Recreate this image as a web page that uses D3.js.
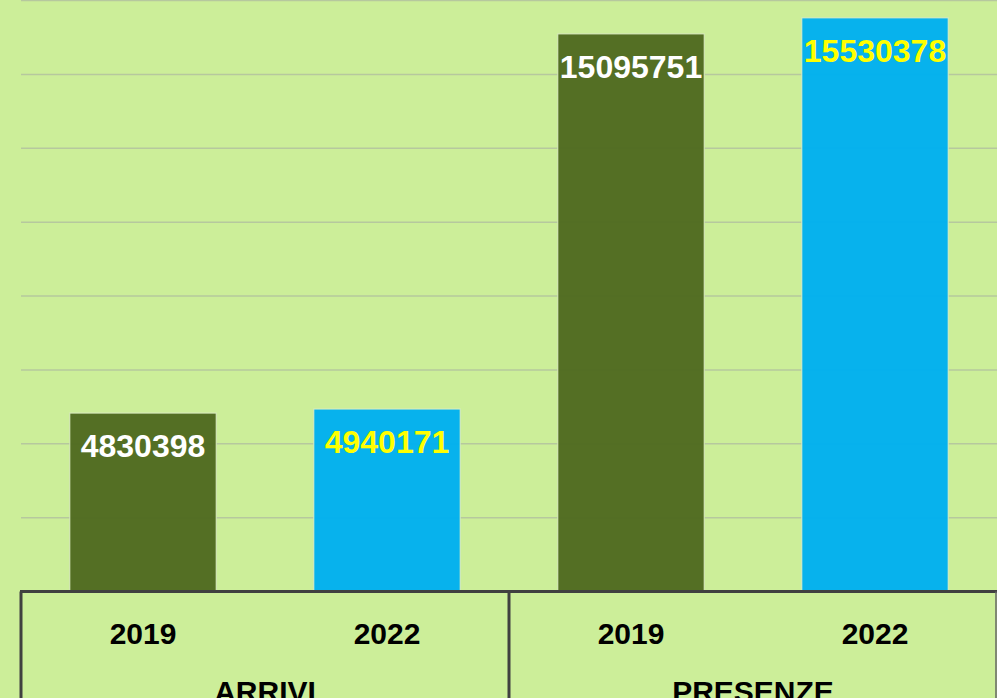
<!DOCTYPE html>
<html>
<head>
<meta charset="utf-8">
<script src="https://cdn.jsdelivr.net/npm/d3@7"></script>
<style>
  html, body { margin: 0; padding: 0; background: #ccee99; overflow: hidden; }
  text { font-family: "Liberation Sans", Arial, sans-serif; font-weight: bold; }
</style>
</head>
<body>
<script>
// dati
const groups = ["ARRIVI", "PRESENZE"];
const years = ["2019", "2022"];
const arrivi = [4830398, 4940171];
const presenze = [15095751, 15530378];
const yMax = 16000000;
const yStep = 2000000;

const colors = { "2019": "#4f6a20", "2022": "#00b0f0" };
const labelColors = { "2019": "#ffffff", "2022": "#ffff00" };

const width = 997;
const height = 698;

const rows = [];
groups.forEach((g, gi) => {
    const vals = gi === 0 ? arrivi : presenze;
    years.forEach((y, yi) => {
        rows.push({ key: g + "-" + y, group: g, year: y, value: vals[yi] });
    });
});

const svg = d3.select("body")
    .append("svg")
    .attr("width", width)
    .attr("height", height);

svg.append("rect")
    .attr("width", width)
    .attr("height", height)
    .attr("fill", "#ccee99");

const x = d3.scaleBand()
    .domain(rows.map(d => d.key))
    .range([21, 997])
    .paddingInner(0.4)
    .paddingOuter(0.2);

const y = d3.scaleLinear()
    .domain([0, yMax])
    .range([591.5, 0.5]);

// griglia
svg.append("g")
    .selectAll("line")
    .data(d3.range(yStep, yMax + 1, yStep))
    .enter().append("line")
    .attr("x1", 21)
    .attr("x2", width)
    .attr("y1", d => y(d))
    .attr("y2", d => y(d))
    .attr("stroke", "#b6c89e")
    .attr("stroke-width", 1.5);

// barre
svg.append("g")
    .selectAll("rect")
    .data(rows)
    .enter().append("rect")
    .attr("x", d => x(d.key))
    .attr("y", d => y(d.value))
    .attr("width", x.bandwidth())
    .attr("height", d => y(0) - y(d.value))
    .attr("fill", d => colors[d.year])
    .attr("fill-opacity", 0.97)
    .attr("stroke", "#dcedc4")
    .attr("stroke-width", 1);

// etichette valori
svg.append("g")
    .selectAll("text")
    .data(rows)
    .enter().append("text")
    .attr("x", d => x(d.key) + x.bandwidth() / 2)
    .attr("y", d => y(d.value) + 44)
    .attr("text-anchor", "middle")
    .attr("font-size", 32)
    .attr("fill", d => labelColors[d.year])
    .text(d => d.value);

// asse categorie a due livelli
const axis = svg.append("g");
axis.append("line")
    .attr("x1", 20).attr("x2", width)
    .attr("y1", y(0)).attr("y2", y(0))
    .attr("stroke", "#404040").attr("stroke-width", 3);

const groupEdges = [x(rows[0].key) - x.step() * 0.2];
groups.forEach(g => {
    const last = rows.filter(d => d.group === g).pop();
    groupEdges.push(x(last.key) + x.bandwidth() + x.step() * 0.2);
});

groupEdges.forEach((ex, i) => {
    const isLast = i === groupEdges.length - 1;
    axis.append("line")
        .attr("x1", isLast ? ex - 1 : ex).attr("x2", isLast ? ex - 1 : ex)
        .attr("y1", y(0)).attr("y2", height)
        .attr("stroke", isLast ? "#666666" : "#404040")
        .attr("stroke-width", isLast ? 1.5 : 3);
});

axis.selectAll(".year")
    .data(rows)
    .enter().append("text")
    .attr("class", "year")
    .attr("x", d => x(d.key) + x.bandwidth() / 2)
    .attr("y", 644)
    .attr("text-anchor", "middle")
    .attr("font-size", 30)
    .attr("fill", "#000")
    .text(d => d.year);

axis.selectAll(".group")
    .data(groups)
    .enter().append("text")
    .attr("class", "group")
    .attr("x", (d, i) => (groupEdges[i] + groupEdges[i + 1]) / 2)
    .attr("y", 702)
    .attr("text-anchor", "middle")
    .attr("font-size", 30)
    .attr("fill", "#000")
    .text(d => d);
</script>
</body>
</html>
